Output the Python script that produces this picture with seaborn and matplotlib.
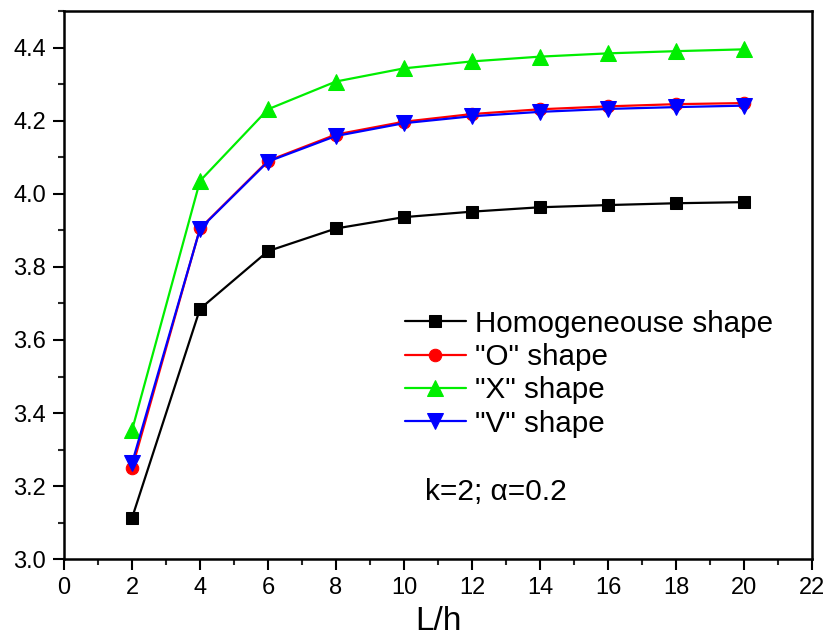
import matplotlib
matplotlib.use("Agg")
import matplotlib.pyplot as plt
from matplotlib.ticker import MultipleLocator
import seaborn as sns
import pandas as pd

x_vals = [2, 4, 6, 8, 10, 12, 14, 16, 18, 20]
homog = [3.113, 3.685, 3.843, 3.905, 3.936, 3.951, 3.963, 3.969, 3.974, 3.977]
o_shape = [3.249, 3.905, 4.090, 4.162, 4.197, 4.218, 4.231, 4.239, 4.245, 4.248]
x_shape = [3.353, 4.035, 4.231, 4.307, 4.343, 4.362, 4.375, 4.384, 4.390, 4.395]
v_shape = [3.263, 3.904, 4.088, 4.158, 4.193, 4.212, 4.224, 4.232, 4.237, 4.241]
series_names = ["Homogeneouse shape", '"O" shape', '"X" shape', '"V" shape']

sns.set_theme(style="ticks")
plt.rcParams['font.family'] = ['Liberation Sans', 'DejaVu Sans']
plt.rcParams['text.color'] = 'black'
plt.rcParams['axes.labelcolor'] = 'black'

rows = []
for name, vals in zip(series_names, [homog, o_shape, x_shape, v_shape]):
    for xv, yv in zip(x_vals, vals):
        rows.append({"L/h": xv, "val": yv, "series": name})
df = pd.DataFrame(rows)

palette = {series_names[0]: "black", series_names[1]: "red",
           series_names[2]: "#00ee00", series_names[3]: "blue"}
markers = {series_names[0]: "s", series_names[1]: "o",
           series_names[2]: "^", series_names[3]: "v"}

fig = plt.figure(figsize=(8.26, 6.44), dpi=100)
ax = fig.add_axes([0.0775, 0.1315, 0.9055, 0.8515])

for name in series_names:
    sub = df[df["series"] == name]
    ms = 9 if markers[name] in ("s", "o") else 11
    sns.lineplot(data=sub, x="L/h", y="val", ax=ax, color=palette[name],
                 marker=markers[name], markersize=ms, markeredgecolor=palette[name],
                 linewidth=1.6, label=name, legend=False)

ax.set_xlim(0, 22)
ax.set_ylim(3.0, 4.5)
ax.xaxis.set_major_locator(MultipleLocator(2))
ax.xaxis.set_minor_locator(MultipleLocator(1))
ax.yaxis.set_minor_locator(MultipleLocator(0.1))
ax.set_yticks([3.0, 3.2, 3.4, 3.6, 3.8, 4.0, 4.2, 4.4])
ax.yaxis.set_major_formatter(matplotlib.ticker.FormatStrFormatter('%.1f'))
ax.tick_params(which="major", direction="out", length=8, width=1.5, labelsize=17,
               colors="black", pad=5)
ax.tick_params(which="minor", direction="out", length=4.5, width=1.5)
for s in ax.spines.values():
    s.set_linewidth(1.8)
    s.set_color("black")
ax.set_xlabel("L/h", fontsize=24, labelpad=5)
ax.set_ylabel("")

leg = ax.legend(loc="upper left", bbox_to_anchor=(0.456, 0.455), frameon=False,
                fontsize=21.3, handlelength=2.05, handletextpad=0.3, labelspacing=0.18,
                borderaxespad=0, borderpad=0)
ax.text(0.483, 0.122, "k=2; α=0.2", transform=ax.transAxes, fontsize=21.5,
        ha="left", va="center")

fig.savefig("out.png", dpi=100)
